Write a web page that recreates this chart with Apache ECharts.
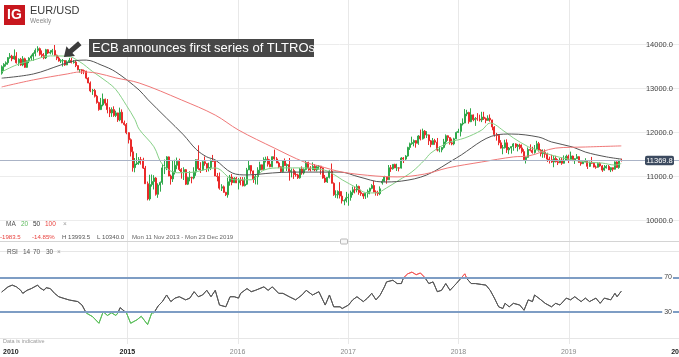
<!DOCTYPE html>
<html>
<head>
<meta charset="utf-8">
<script src="https://cdn.jsdelivr.net/npm/echarts@6.0.0/dist/echarts.min.js"></script>
<style>
html,body{margin:0;padding:0;background:#ffffff;overflow:hidden}
#chart{width:679px;height:357px}
</style>
</head>
<body>
<div id="chart"></div>
<script>
// ================= DATA (EUR/USD weekly, prices x10000) =================
// One candle per week, first week starting Mon 11 Nov 2013.
const firstWeek = [2013, 10, 11];

const open2013  = [13353.3,13500,13555,13590,13705,13740,13675];
const high2013  = [13530,13580,13620,13720,13810,13770,13893];
const low2013   = [13320,13400,13505,13545,13680,13625,13660];
const close2013 = [13500,13555,13590,13705,13740,13675,13740];

const open2014  = [13740,13590,13670,13540,13680,13485,13635,13695,13740,13800,13870,13910,13780,13750,13700,13885,13810,13830,13870,13760,13695,13630,13635,13640,13540,13610,13645,13595,13605,13525,13430,13430,13410,13400,13240,13130,12950,12960,12830,12685,12525,12630,12760,12670,12525,12450,12525,12390,12450,12290,12465,12225];
const high2014  = [13830,13690,13700,13740,13705,13645,13715,13775,13825,13915,13965,13935,13870,13810,13905,13900,13875,13905,13993.5,13775,13735,13670,13675,13650,13645,13700,13700,13650,13635,13530,13445,13445,13435,13405,13260,13165,12995,12995,12860,12705,12790,12890,12775,12765,12580,12575,12600,12500,12455,12570,12530,12275];
const low2014   = [13570,13520,13520,13510,13475,13475,13580,13640,13635,13735,13825,13750,13705,13670,13675,13790,13780,13770,13740,13650,13615,13585,13503,13520,13535,13585,13575,13570,13490,13420,13365,13335,13330,13215,13125,12920,12860,12800,12660,12500,12515,12600,12615,12440,12355,12360,12360,12355,12245,12260,12215,12160];
const close2014 = [13590,13670,13540,13680,13485,13635,13695,13740,13800,13870,13910,13780,13750,13700,13885,13810,13830,13870,13760,13695,13630,13635,13640,13540,13610,13645,13595,13605,13525,13430,13430,13410,13400,13240,13130,12950,12960,12830,12685,12525,12630,12760,12670,12525,12450,12525,12390,12450,12290,12465,12225,12185];

const open2015  = [12185,12000,11840,11565,11205,11290,11315,11385,11380,11195,10840,10495,10820,10890,10970,10600,10810,10870,11200,11200,11450,11015,10950,11110,11260,11350,11165,11110,11160,10830,10980,10980,10970,11105,11385,11185,11150,11340,11300,11195,11210,11360,11350,11015,11005,10740,10770,10645,10590,10885,10990,10865];
const high2015  = [12220,12010,11870,11680,11425,11535,11445,11450,11430,11245,10890,11045,11050,11035,10990,10850,10890,11290,11390,11467,11460,11050,11380,11385,11435,11410,11195,11215,11175,11000,11125,11000,11215,11395,11714,11330,11375,11460,11300,11320,11390,11495,11380,11085,11095,10830,10800,10655,10980,11040,11060,10990];
const low2015   = [11965,11755,11460,11115,11100,11265,11270,11275,11175,10840,10462,10458,10775,10710,10570,10520,10660,10820,11060,11150,11010,10820,10880,11050,11170,11130,10955,10925,10810,10810,10895,10850,10940,11020,11155,11085,11135,11250,11105,11120,11150,11335,11015,10895,10705,10675,10635,10560,10524,10795,10805,10855];
const close2015 = [12000,11840,11565,11205,11290,11315,11385,11380,11195,10840,10495,10820,10890,10970,10600,10810,10870,11200,11200,11450,11015,10950,11110,11260,11350,11165,11110,11160,10830,10980,10980,10970,11105,11385,11185,11150,11340,11300,11195,11210,11360,11350,11015,11005,10740,10770,10645,10590,10885,10990,10865,10965];

const open2016  = [10965,10860,10920,10915,10795,10830,11155,11255,11130,10935,11000,11150,11270,11165,11390,11400,11285,11225,11455,11405,11310,11225,11115,11365,11250,11275,11115,11140,11050,11040,10975,11175,11085,11165,11325,11195,11155,11235,11155,11225,11240,11200,10970,10880,10985,11130,10850,10590,10590,10665,10560,10450,10455];
const high2016  = [10995,10970,10990,10990,10990,11200,11375,11260,11140,11045,11215,11340,11275,11440,11455,11465,11395,11460,11616,11445,11345,11235,11375,11415,11300,11425,11185,11185,11120,11065,11195,11235,11190,11365,11340,11240,11325,11285,11255,11265,11245,11210,11040,10990,11145,11300,10870,10690,10690,10875,10670,10485,10655];
const low2016   = [10855,10710,10805,10780,10780,10810,11150,11065,10860,10825,10820,11050,11145,11145,11325,11230,11215,11215,11385,11310,11195,11095,11095,11250,11130,10910,10985,10950,11000,10950,10955,11045,11050,11145,11135,11120,11150,11125,11120,11160,11050,10955,10860,10860,10960,10850,10565,10520,10505,10505,10390,10352,10415];
const close2016 = [10860,10920,10915,10795,10830,11155,11255,11130,10935,11000,11150,11270,11165,11390,11400,11285,11225,11455,11405,11310,11225,11115,11365,11250,11275,11115,11140,11050,11040,10975,11175,11085,11165,11325,11195,11155,11235,11155,11225,11240,11200,10970,10880,10985,11130,10850,10590,10590,10665,10560,10450,10455,10520];

const open2017  = [10520,10530,10645,10705,10700,10780,10640,10615,10560,10620,10670,10735,10800,10650,10640,10615,10860,10895,10995,10930,11205,11180,11280,11200,11200,11195,11425,11400,11470,11665,11750,11775,11820,11760,11925,11860,12035,11950,11950,11815,11730,11820,11785,11605,11610,11665,11790,11930,11890,11770,11745,11860];
const high2017  = [10615,10685,10775,10775,10830,10795,10705,10625,10630,10710,10750,10830,10905,10690,10680,10780,10945,11020,11000,11265,11265,11285,11295,11295,11215,11445,11445,11490,11680,11775,11910,11845,11825,11945,12070,12092,12060,12035,11960,11835,11880,11860,11880,11690,11670,11860,11960,11940,11895,11865,11885,12025];
const low2017   = [10340,10455,10580,10620,10645,10590,10565,10495,10495,10525,10600,10715,10645,10570,10565,10580,10820,10880,10840,10925,11110,11160,11195,11130,11120,11185,11310,11370,11455,11610,11725,11690,11660,11725,11825,11845,11870,11880,11720,11670,11730,11725,11575,11555,11555,11640,11715,11815,11730,11715,11715,11855];
const close2017 = [10530,10645,10705,10700,10780,10640,10615,10560,10620,10670,10735,10800,10650,10640,10615,10725,10895,10995,10930,11205,11180,11280,11200,11200,11195,11425,11400,11470,11665,11750,11775,11820,11760,11925,11860,12035,11950,11950,11815,11730,11820,11785,11605,11610,11665,11790,11930,11890,11770,11745,11860,12005];

const open2018  = [12005,12030,12200,12220,12425,12460,12250,12405,12295,12320,12310,12290,12355,12320,12280,12330,12290,12130,11960,11940,11770,11650,11660,11770,11610,11650,11685,11745,11685,11720,11655,11570,11385,11440,11620,11600,11550,11625,11750,11605,11525,11560,11510,11400,11385,11335,11415,11340,11315,11380,11305,11370];
const high2018  = [12090,12215,12325,12537,12520,12475,12555,12415,12355,12445,12410,12475,12475,12345,12395,12415,12295,12150,11995,11970,11830,11720,11840,11850,11675,11690,11765,11760,11745,11750,11735,11625,11445,11665,11735,11680,11720,11815,11790,11625,11620,11620,11545,11455,11500,11470,11475,11400,11425,11440,11485,11500];
const low2018   = [11995,11915,12165,12215,12375,12205,12240,12260,12155,12270,12255,12240,12290,12215,12270,12250,12055,11910,11820,11715,11640,11510,11640,11540,11510,11525,11590,11650,11575,11620,11530,11365,11300,11430,11575,11525,11525,11610,11570,11460,11430,11430,11335,11300,11315,11215,11325,11265,11310,11270,11300,11365];
const close2018 = [12030,12200,12220,12425,12460,12250,12405,12295,12320,12310,12290,12355,12320,12280,12330,12290,12130,11960,11940,11770,11650,11660,11770,11610,11650,11685,11745,11685,11720,11655,11570,11385,11440,11620,11600,11550,11625,11750,11605,11525,11560,11510,11400,11385,11335,11415,11340,11315,11380,11305,11370,11465];

const open2019  = [11465,11395,11470,11365,11410,11455,11325,11295,11335,11365,11235,11325,11305,11220,11215,11300,11245,11150,11200,11235,11155,11205,11170,11335,11210,11370];
const high2019  = [11500,11570,11480,11420,11515,11465,11345,11370,11420,11375,11345,11450,11325,11255,11325,11325,11265,11265,11265,11265,11215,11210,11350,11350,11385,11410];
const low2019   = [11310,11390,11355,11290,11405,11320,11250,11290,11330,11175,11220,11290,11210,11180,11205,11225,11110,11135,11185,11155,11105,11120,11165,11200,11180,11345];
const close2019 = [11395,11470,11365,11410,11455,11325,11295,11335,11365,11235,11325,11305,11220,11215,11300,11245,11150,11200,11235,11155,11205,11170,11335,11210,11370,11369.8];

// Moving averages (week index -> value)
const ma20Weeks  = [0,7,15,23,31,37,43,50,54,59,63,65,72,76,83,90,101,110,118,124,132,143,150,155,161,168,172,177,182,188,194,200,203,211,219,227,231,238,242,249,253,260,268,276,284,290,293];
const ma20Values = [13380,13540,13650,13745,13740,13610,13390,13150,12980,12620,12300,12080,11680,11280,11090,11100,11200,10930,10930,11150,11200,11200,11175,11110,10930,10745,10640,10630,10745,10925,11110,11380,11540,11770,11880,12060,12220,12020,11880,11680,11610,11490,11400,11335,11310,11265,11300];
const ma50Weeks  = [0,15,28,34,40,47,54,65,69,78,86,92,97,101,109,116,128,137,150,160,169,180,189,201,215,234,241,254,260,270,276,286,293];
const ma50Values = [13240,13335,13540,13630,13650,13540,13380,12970,12760,12330,11950,11620,11450,11380,11085,11040,11085,11105,11105,11105,10995,10880,10900,11040,11425,11950,11970,11900,11790,11675,11560,11450,11400];
const ma100Weeks  = [0,15,31,37,45,54,65,85,101,112,129,143,150,161,177,187,200,211,227,242,249,262,276,293];
const ma100Values = [13040,13200,13335,13380,13355,13245,13130,12745,12400,12060,11650,11335,11245,11105,11015,10995,11060,11200,11335,11450,11470,11650,11675,11700];

// RSI(14) (week index -> value)
const rsiWeeks  = [0,3,5,7,9,10,12,14,17,18,20,21,23,25,27,29,32,36,38,40,43,46,48,50,52,54,55,56,58,59,61,64,66,69,71,72,74,76,78,80,82,84,87,89,91,93,95,97,99,101,103,106,108,110,112,113,116,118,120,124,126,128,131,133,136,139,142,144,147,150,153,155,157,160,161,164,166,168,171,173,175,177,179,181,182,185,187,189,190,192,194,196,198,200,202,204,206,208,210,212,215,217,219,220,222,224,227,229,231,233,235,237,238,240,242,245,247,249,251,252,255,257,260,262,264,267,269,271,274,276,278,281,283,285,288,290,291,293];
const rsiValues = [53,59,61,59,55,51.5,55,57,61,58,55,58,57,51.5,47.6,46,43.8,42,38,28.8,24.6,17,30.3,26,29,26,29,35,31,29,17,21,25,15.5,29,29,37,42,49.6,42,46,47.6,44,46,53.4,47.6,49.6,55,47.6,55,38,36,47.6,47.6,46,51.5,57,53.4,55,59,55,59,51.5,51.5,47.6,44,49.6,55,49.6,53.4,38,49.6,36,36,34,38,44,47.6,42,46,51.5,44,49.6,59,64.7,66.6,62.8,62.8,69.3,74,76,73,75,70,62.8,64.7,53.4,55,62.8,55,62.8,68.4,74,68.4,62.8,62.8,61.7,61,55,46,36,34,40,36,40,38,32,44,42,49.6,44,40,36,40,38,46,44,47.6,42,46,42,46,40,46,44,51.5,47.6,54];
const rsiLevels = [70, 30];

// Axis tick labels
const yearTicks = [2015, 2016, 2017, 2018, 2019, 2020];
const firstYearLabel = '2010';
const boldYears = ['2010', '2015', '2020'];

// Texts
const pairName = 'EUR/USD';
const periodName = 'Weekly';
const rangeText = 'Mon 11 Nov 2013 - Mon 23 Dec 2019';
const annotationText = 'ECB announces first series of TLTROs';
const annotationDate = [2014, 5, 5];
const annotationLevel = 13720;

// ================= BUILD =================
const FONT = '"Liberation Sans", Arial, Helvetica, sans-serif';
const DAY = 86400000;
const WEEK0 = Date.UTC(firstWeek[0], firstWeek[1], firstWeek[2]);
const weekTime = i => WEEK0 + i * 7 * DAY;

const opens  = [].concat(open2013, open2014, open2015, open2016, open2017, open2018, open2019);
const highs  = [].concat(high2013, high2014, high2015, high2016, high2017, high2018, high2019);
const lows   = [].concat(low2013, low2014, low2015, low2016, low2017, low2018, low2019);
const closes = [].concat(close2013, close2014, close2015, close2016, close2017, close2018, close2019);

const candles = opens.map((o, i) => [weekTime(i), o, closes[i], lows[i], highs[i]]);
const pairs = (weeks, vals) => weeks.map((w, k) => [weekTime(w), vals[k]]);

const lastClose = closes[closes.length - 1];
const firstOpen = opens[0];
const change = lastClose - firstOpen;
const changePct = change / firstOpen * 100;
const hi = Math.max.apply(null, highs);
const lo = Math.min.apply(null, lows);

const X_MIN = Date.UTC(2013, 10, 5, 12);
const X_MAX = Date.UTC(2020, 0, 1);

const UP = '#2fa84b';
const DOWN = '#ea2a2a';

const chart = echarts.init(document.getElementById('chart'), null, {renderer: 'canvas', width: 679, height: 357});

const mainSplit = ['#ececec', '#ececec', '#ececec', '#ececec', '#ececec', 'rgba(0,0,0,0)'];
const rsiSplit = ['#e6e6e6'].concat(new Array(9).fill('rgba(0,0,0,0)'), ['#e6e6e6']);

const option = {
  animation: false,
  useUTC: true,
  backgroundColor: '#ffffff',
  textStyle: {fontFamily: FONT},
  grid: [
    {left: 0, right: 0, top: 0.7, height: 220},
    {left: 0, right: 0, top: 251.3, height: 86.7}
  ],
  xAxis: [0, 1].map(g => ({
    type: 'time', gridIndex: g, min: X_MIN, max: X_MAX,
    axisLine: {show: false}, axisTick: {show: false}, axisLabel: {show: false}, splitLine: {show: false}
  })),
  yAxis: [
    {
      type: 'value', gridIndex: 0, min: 10000, max: 15000, interval: 1000, position: 'right',
      axisLine: {show: false}, axisTick: {show: false},
      axisLabel: {inside: true, margin: 6, fontSize: 7.5, color: '#444', fontFamily: FONT,
        formatter: v => (v >= 15000 ? '' : v.toFixed(1))},
      splitLine: {lineStyle: {color: mainSplit, width: 1}}
    },
    {
      type: 'value', gridIndex: 1, min: 0, max: 100, interval: 10, position: 'right', z: 5,
      axisLine: {show: false}, axisTick: {show: false},
      axisLabel: {inside: true, margin: 6, fontSize: 7, color: '#444', fontFamily: FONT,
        backgroundColor: '#ffffff', padding: [0, 1, 0, 2],
        formatter: v => (rsiLevels.indexOf(v) >= 0 ? String(v) : '')},
      splitLine: {lineStyle: {color: rsiSplit, width: 1}}
    }
  ],
  visualMap: {
    type: 'piecewise', show: false, seriesIndex: 4, dimension: 1,
    pieces: [
      {lt: 30, color: '#5cbf5c'},
      {gte: 30, lte: 70, color: '#575757'},
      {gt: 70, color: '#f25a5a'}
    ]
  },
  series: [
    {
      type: 'candlestick', xAxisIndex: 0, yAxisIndex: 0,
      dimensions: ['date', 'open', 'close', 'lowest', 'highest'],
      encode: {x: 'date', y: ['open', 'close', 'lowest', 'highest']},
      data: candles, barWidth: 1.5,
      itemStyle: {color: UP, color0: DOWN, borderColor: UP, borderColor0: DOWN, borderWidth: 1},
      markLine: {
        silent: true, symbol: ['none', 'none'], label: {show: false},
        lineStyle: {color: '#aab3c6', width: 1, type: 'solid'},
        data: [{yAxis: lastClose}]
      }
    },
    {type: 'line', xAxisIndex: 0, yAxisIndex: 0, data: pairs(ma20Weeks, ma20Values), showSymbol: false, smooth: 0.35,
      lineStyle: {color: '#86d086', width: 1}, silent: true},
    {type: 'line', xAxisIndex: 0, yAxisIndex: 0, data: pairs(ma50Weeks, ma50Values), showSymbol: false, smooth: 0.35,
      lineStyle: {color: '#555555', width: 1}, silent: true},
    {type: 'line', xAxisIndex: 0, yAxisIndex: 0, data: pairs(ma100Weeks, ma100Values), showSymbol: false, smooth: 0.35,
      lineStyle: {color: '#f07878', width: 1}, silent: true},
    {
      type: 'line', xAxisIndex: 1, yAxisIndex: 1, data: pairs(rsiWeeks, rsiValues), showSymbol: false,
      lineStyle: {width: 1}, silent: true,
      markLine: {
        silent: true, symbol: ['none', 'none'], label: {show: false},
        lineStyle: {color: '#7e9dc4', width: 1.8, type: 'solid'},
        data: rsiLevels.map(v => ({yAxis: v}))
      }
    }
  ]
};
chart.setOption(option);

// ---------- overlays positioned through the axes ----------
const toX = t => chart.convertToPixel({xAxisIndex: 0}, t);
const toPt = (t, v) => chart.convertToPixel({gridIndex: 0}, [t, v]);
const g = [];
const txt = (x, y, text, fill, size, extra) => ({
  type: 'text', x: x, y: y, z: 100, silent: true,
  style: Object.assign({text: text, fill: fill, fontSize: size, fontFamily: FONT, align: 'left', verticalAlign: 'middle'}, extra || {})
});

// vertical year grid lines
yearTicks.forEach(y => {
  const x = Math.round(toX(Date.UTC(y, 0, 1))) + 0.5;
  g.push({type: 'line', z: 0, silent: true, shape: {x1: x, y1: 0, x2: x, y2: 344}, style: {stroke: '#e8e8e8', lineWidth: 1}});
});
// year labels
g.push(txt(3, 352, firstYearLabel, '#222', 7, {fontWeight: 'bold'}));
yearTicks.forEach(y => {
  const x = toX(Date.UTC(y, 0, 1));
  const s = String(y);
  const bold = boldYears.indexOf(s) >= 0;
  g.push(txt(x, 352, s, bold ? '#222' : '#8a8a8a', 7, {align: 'center', fontWeight: bold ? 'bold' : 'normal'}));
});

// divider between panels
g.push({type: 'line', z: 50, silent: true, shape: {x1: 0, y1: 241.5, x2: 679, y2: 241.5}, style: {stroke: '#d4d4d4', lineWidth: 1}});
g.push({type: 'rect', z: 51, silent: true, shape: {x: 340.5, y: 239, width: 7, height: 5, r: 1}, style: {fill: '#f6f6f6', stroke: '#b8b8b8', lineWidth: 1}});

// header
g.push({type: 'rect', z: 100, silent: true, shape: {x: 4, y: 5, width: 21, height: 20}, style: {fill: '#c8171e'}});
g.push(txt(14.5, 15.5, 'IG', '#ffffff', 14, {align: 'center', fontWeight: 'bold'}));
g.push(txt(30, 11, pairName, '#3a3a3a', 11));
g.push(txt(30, 21.3, periodName, '#8a8a8a', 6.5));

// MA legend
g.push(txt(6, 224.3, 'MA', '#555', 6.5));
g.push(txt(21, 224.3, '20', '#5cb85c', 6.5));
g.push(txt(33, 224.3, '50', '#333', 6.5));
g.push(txt(45, 224.3, '100', '#e8433f', 6.5));
g.push(txt(63, 224.3, '\u00d7', '#999', 6.5));

// info line
g.push(txt(0, 237.3, change.toFixed(1), '#e8433f', 6.1));
g.push(txt(32, 237.3, changePct.toFixed(2) + '%', '#e8433f', 6.1));
g.push(txt(62, 237.3, 'H ' + hi.toFixed(1), '#555', 6.1));
g.push(txt(97, 237.3, 'L ' + lo.toFixed(1), '#555', 6.1));
g.push(txt(132, 237.3, rangeText, '#666', 6.1));

// RSI legend
g.push(txt(7, 252.5, 'RSI', '#555', 6.5));
g.push(txt(23, 252.5, '14', '#555', 6.5));
g.push(txt(33, 252.5, '70', '#555', 6.5));
g.push(txt(46, 252.5, '30', '#555', 6.5));
g.push(txt(57, 252.5, '\u00d7', '#999', 6.5));
g.push(txt(3, 341.7, 'Data is indicative', '#9a9a9a', 5.5));

// current price label
const py = toPt(weekTime(closes.length - 1), lastClose)[1];
g.push({type: 'rect', z: 100, silent: true, shape: {x: 645, y: py - 4.6, width: 29, height: 9.4, r: 2}, style: {fill: '#3d4b60'}});
g.push(txt(659.5, py + 0.2, lastClose.toFixed(1), '#ffffff', 7.5, {align: 'center'}));

// annotation box + arrow
g.push({type: 'rect', z: 100, silent: true, shape: {x: 89, y: 39, width: 225, height: 18}, style: {fill: '#474747'}});
g.push(txt(92, 48.3, annotationText, '#ffffff', 13));
const tip = toPt(Date.UTC(annotationDate[0], annotationDate[1], annotationDate[2]), annotationLevel);
const ux = 0.756, uy = -0.655, nx = 0.655, ny = 0.756;
const P = (a, b) => [tip[0] + ux * a + nx * b, tip[1] + uy * a + ny * b];
g.push({type: 'polygon', z: 100, silent: true,
  shape: {points: [P(0, 0), P(9, 6.5), P(9, 2.6), P(21, 2.6), P(21, -2.6), P(9, -2.6), P(9, -6.5)]},
  style: {fill: '#3c3c3c'}});

chart.setOption({graphic: {elements: g}});
</script>
</body>
</html>
